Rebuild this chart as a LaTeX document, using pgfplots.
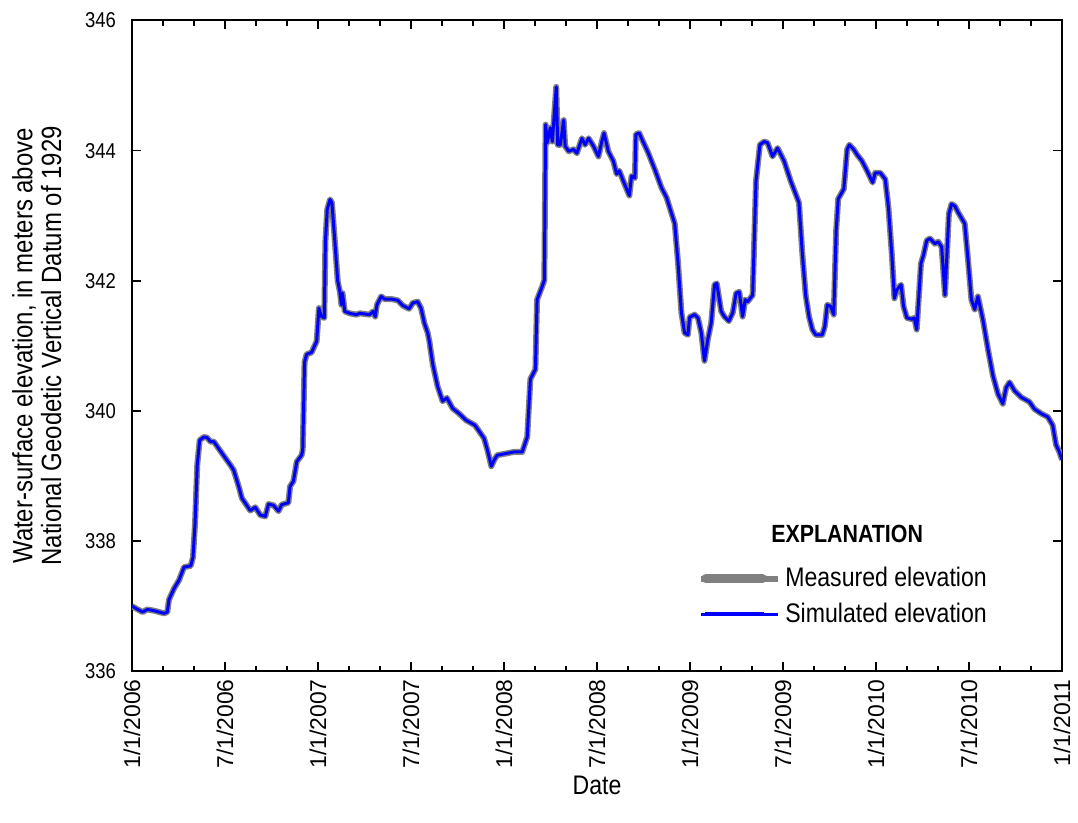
\documentclass[border=0pt]{standalone}
\usepackage{pgfplots}
\pgfplotsset{compat=1.18}
\usepackage{pgfplotstable}
\usepackage{fontspec}
\setmainfont{Liberation Sans}
\newfontfamily\cond[FakeStretch=0.86]{Liberation Sans}
\definecolor{measgray}{RGB}{128,128,128}
\definecolor{simblue}{RGB}{0,0,255}
\pgfplotstableread{
x y
2006.000 337.00
2006.057 336.91
2006.083 336.95
2006.120 336.93
2006.173 336.89
2006.190 336.91
2006.199 337.10
2006.226 337.27
2006.253 337.40
2006.280 337.60
2006.316 337.62
2006.328 337.75
2006.339 338.26
2006.351 339.17
2006.364 339.55
2006.387 339.60
2006.404 339.59
2006.422 339.53
2006.440 339.53
2006.484 339.35
2006.529 339.17
2006.547 339.09
2006.574 338.84
2006.591 338.66
2006.636 338.47
2006.663 338.52
2006.690 338.40
2006.717 338.38
2006.734 338.57
2006.761 338.55
2006.788 338.46
2006.805 338.56
2006.841 338.59
2006.850 338.84
2006.868 338.92
2006.886 339.22
2006.912 339.32
2006.918 339.40
2006.928 340.75
2006.939 340.87
2006.966 340.90
2006.993 341.07
2007.005 341.58
2007.019 341.45
2007.034 341.43
2007.040 342.60
2007.050 343.10
2007.065 343.25
2007.075 343.20
2007.091 342.60
2007.106 342.00
2007.118 341.83
2007.126 341.63
2007.132 341.81
2007.144 341.53
2007.171 341.50
2007.206 341.48
2007.225 341.50
2007.278 341.48
2007.296 341.53
2007.308 341.45
2007.317 341.63
2007.340 341.76
2007.358 341.72
2007.394 341.72
2007.429 341.70
2007.456 341.62
2007.490 341.57
2007.510 341.66
2007.536 341.68
2007.554 341.58
2007.572 341.35
2007.590 341.20
2007.599 341.07
2007.617 340.72
2007.643 340.38
2007.670 340.15
2007.693 340.20
2007.724 340.04
2007.759 339.96
2007.795 339.86
2007.844 339.78
2007.893 339.58
2007.911 339.40
2007.932 339.15
2007.948 339.25
2007.964 339.32
2008.018 339.35
2008.053 339.37
2008.098 339.37
2008.125 339.60
2008.142 340.49
2008.169 340.64
2008.178 341.71
2008.205 341.91
2008.217 342.01
2008.224 344.40
2008.232 344.12
2008.249 344.35
2008.260 344.14
2008.281 344.98
2008.289 344.09
2008.303 344.09
2008.321 344.47
2008.329 344.07
2008.348 343.99
2008.374 344.02
2008.392 343.96
2008.419 344.19
2008.436 344.09
2008.455 344.19
2008.481 344.07
2008.508 343.91
2008.526 344.14
2008.538 344.27
2008.561 343.99
2008.588 343.84
2008.606 343.64
2008.620 343.69
2008.642 343.53
2008.674 343.31
2008.686 343.61
2008.704 343.58
2008.709 344.25
2008.727 344.27
2008.749 344.13
2008.775 343.97
2008.811 343.71
2008.847 343.43
2008.874 343.28
2008.918 342.88
2008.936 342.27
2008.954 341.51
2008.971 341.20
2008.989 341.17
2008.998 341.44
2009.025 341.48
2009.043 341.43
2009.061 341.20
2009.078 340.77
2009.096 341.10
2009.114 341.35
2009.132 341.94
2009.144 341.96
2009.168 341.53
2009.185 341.45
2009.209 341.38
2009.230 341.51
2009.248 341.81
2009.265 341.83
2009.283 341.45
2009.297 341.71
2009.310 341.68
2009.337 341.78
2009.355 343.53
2009.376 344.09
2009.399 344.14
2009.417 344.12
2009.444 343.91
2009.471 344.04
2009.506 343.84
2009.542 343.53
2009.586 343.20
2009.604 342.42
2009.622 341.78
2009.640 341.45
2009.658 341.25
2009.676 341.17
2009.711 341.17
2009.725 341.30
2009.738 341.63
2009.756 341.61
2009.773 341.48
2009.786 342.77
2009.797 343.26
2009.827 343.41
2009.845 344.02
2009.857 344.09
2009.880 344.02
2009.898 343.94
2009.925 343.84
2009.952 343.69
2009.982 343.51
2009.996 343.66
2010.023 343.66
2010.050 343.56
2010.067 343.13
2010.086 342.37
2010.099 341.73
2010.112 341.86
2010.135 341.94
2010.148 341.61
2010.166 341.43
2010.193 341.41
2010.206 341.43
2010.219 341.25
2010.242 342.27
2010.255 342.39
2010.273 342.62
2010.290 342.65
2010.317 342.57
2010.335 342.60
2010.353 342.52
2010.371 341.78
2010.392 343.03
2010.406 343.18
2010.424 343.15
2010.442 343.05
2010.477 342.88
2010.495 342.32
2010.513 341.71
2010.531 341.56
2010.548 341.76
2010.575 341.40
2010.602 340.95
2010.629 340.54
2010.656 340.26
2010.682 340.11
2010.700 340.36
2010.718 340.44
2010.745 340.31
2010.781 340.21
2010.825 340.14
2010.852 340.03
2010.888 339.96
2010.923 339.91
2010.950 339.78
2010.968 339.48
2010.986 339.37
2011.000 339.25
}\elev
\begin{document}
\begin{tikzpicture}
\useasboundingbox (-66.35pt,-75.8pt) rectangle (475.65pt,337.5pt);
\begin{axis}[
  scale only axis,
  width=467.6pt, height=327.2pt,
  xmin=2006, xmax=2011, ymin=336, ymax=346,
  xtick={2006,2006.5,2007,2007.5,2008,2008.5,2009,2009.5,2010,2010.5,2011},
  xticklabels={1/1/2006,7/1/2006,1/1/2007,7/1/2007,1/1/2008,7/1/2008,1/1/2009,7/1/2009,1/1/2010,7/1/2010,1/1/2011},
  minor x tick num=2,
  ytick={336,338,340,342,344,346},
  tick align=inside,
  major tick length=4.5pt, minor tick length=2.8pt,
  axis line style={line width=1pt},
  every tick/.style={black, line width=0.8pt},
  /pgf/number format/assume math mode=true,
  /pgf/number format/1000 sep={},
  xticklabel style={rotate=90, anchor=east, font=\fontsize{11.5}{12.5}\selectfont, xshift=-0.5pt},
  yticklabel style={font=\cond\fontsize{10.8}{12}\selectfont, xshift=-4.5pt},
  xlabel={Date},
  xlabel style={at={(axis description cs:0.5,-0.176)}, anchor=center, font=\cond\fontsize{13.5}{15}\selectfont},
  ylabel={Water-surface elevation, in meters above\\National Geodetic Vertical Datum of 1929},
  ylabel style={at={(axis description cs:-0.1024,0.5)}, anchor=center, align=center, font=\cond\fontsize{14}{14.5}\selectfont},
  legend style={draw=none, fill=none, at={(axis description cs:0.608,0.064)}, anchor=south west,
    font=\cond\fontsize{13.5}{15}\selectfont, row sep=2.5pt, inner sep=0pt},
  legend cell align=left,
  clip=true,
]
\addplot[measgray, line width=3pt, line join=round,
  legend image code/.code={\draw[measgray, line width=4.5pt, line cap=round] (2.5pt,0pt) -- (31pt,0pt); \path (0pt,0pt) -- (39pt,0pt);}]
  table[x=x, y=y] {\elev};
\addlegendentry{Measured elevation}
\addplot[simblue, line width=1.5pt, line join=round,
  legend image code/.code={\draw[simblue, line width=1.7pt] (2pt,0pt) -- (32pt,0pt); \path (0pt,0pt) -- (39pt,0pt);}]
  table[x=x, y=y] {\elev};
\addlegendentry{Simulated elevation}
\node[font=\cond\bfseries\fontsize{12.5}{14}\selectfont] at (rel axis cs:0.769,0.211) {EXPLANATION};
\end{axis}
\end{tikzpicture}
\end{document}
